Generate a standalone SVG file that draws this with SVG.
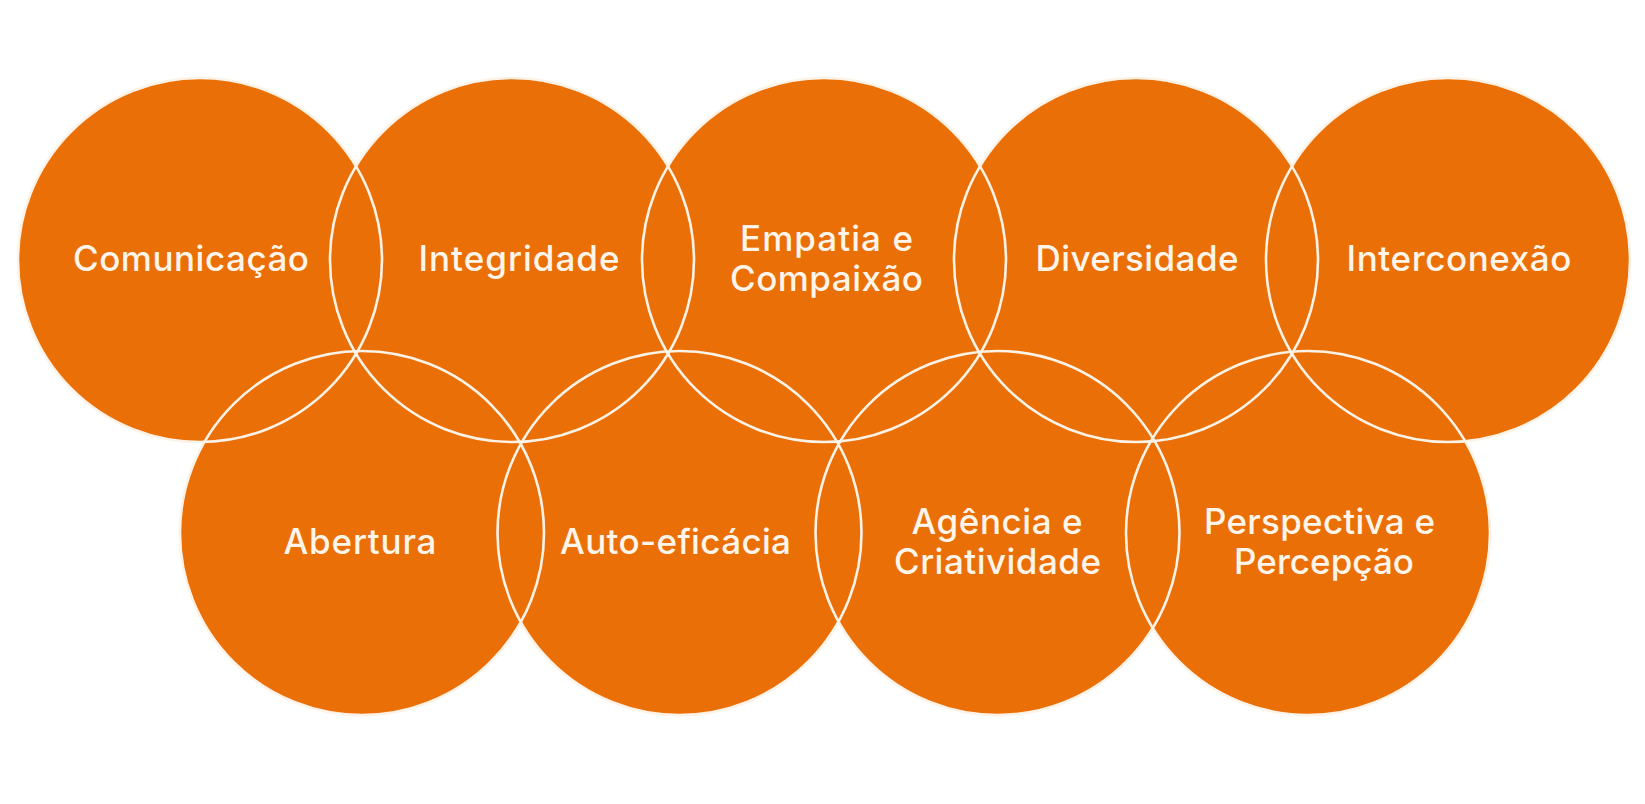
<svg xmlns="http://www.w3.org/2000/svg" width="1645" height="804" viewBox="0 0 1645 804">
<style>
.fill{fill:#EB6F07;stroke:none}
.ring{fill:none;stroke:#FDF2E6;stroke-width:2.6}
.lbl{font-family:Inter,"Open Sans","Liberation Sans",sans-serif;font-weight:500;font-size:35px;fill:#FFF5EA;text-anchor:middle}
</style>
<rect width="1645" height="804" fill="#FFFFFF"/>
<g id="nodes">
<g id="node-comunicacao"><circle class="fill" cx="200" cy="260" r="182"/></g>
<g id="node-integridade"><circle class="fill" cx="512" cy="260" r="182"/></g>
<g id="node-empatia"><circle class="fill" cx="824" cy="260" r="182"/></g>
<g id="node-diversidade"><circle class="fill" cx="1136" cy="260" r="182"/></g>
<g id="node-interconexao"><circle class="fill" cx="1448" cy="260" r="182"/></g>
<g id="node-abertura"><circle class="fill" cx="362" cy="533" r="182"/></g>
<g id="node-autoeficacia"><circle class="fill" cx="679.5" cy="533" r="182"/></g>
<g id="node-agencia"><circle class="fill" cx="997.5" cy="533" r="182"/></g>
<g id="node-perspectiva"><circle class="fill" cx="1308" cy="533" r="182"/></g>
</g>
<g id="outlines">
<circle class="ring" cx="200" cy="260" r="182"/>
<circle class="ring" cx="512" cy="260" r="182"/>
<circle class="ring" cx="824" cy="260" r="182"/>
<circle class="ring" cx="1136" cy="260" r="182"/>
<circle class="ring" cx="1448" cy="260" r="182"/>
<circle class="ring" cx="362" cy="533" r="182"/>
<circle class="ring" cx="679.5" cy="533" r="182"/>
<circle class="ring" cx="997.5" cy="533" r="182"/>
<circle class="ring" cx="1308" cy="533" r="182"/>
</g>
<g id="labels">
<text class="lbl" x="191" y="271" textLength="236" lengthAdjust="spacing">Comunicação</text>
<text class="lbl" x="519" y="271" textLength="201" lengthAdjust="spacing">Integridade</text>
<text class="lbl" x="826.5" y="251" textLength="173" lengthAdjust="spacing">Empatia e</text>
<text class="lbl" x="826.5" y="291" textLength="193" lengthAdjust="spacing">Compaixão</text>
<text class="lbl" x="1137" y="271" textLength="203" lengthAdjust="spacing">Diversidade</text>
<text class="lbl" x="1459" y="271" textLength="225" lengthAdjust="spacing">Interconexão</text>
<text class="lbl" x="360" y="554" textLength="153" lengthAdjust="spacing">Abertura</text>
<text class="lbl" x="675.5" y="554" textLength="231" lengthAdjust="spacing">Auto-eficácia</text>
<text class="lbl" x="997" y="533.5" textLength="171" lengthAdjust="spacing">Agência e</text>
<text class="lbl" x="997.5" y="574" textLength="207" lengthAdjust="spacing">Criatividade</text>
<text class="lbl" x="1319.5" y="533.5" textLength="231" lengthAdjust="spacing">Perspectiva e</text>
<text class="lbl" x="1324" y="574" textLength="180" lengthAdjust="spacing">Percepção</text>
</g>
</svg>
